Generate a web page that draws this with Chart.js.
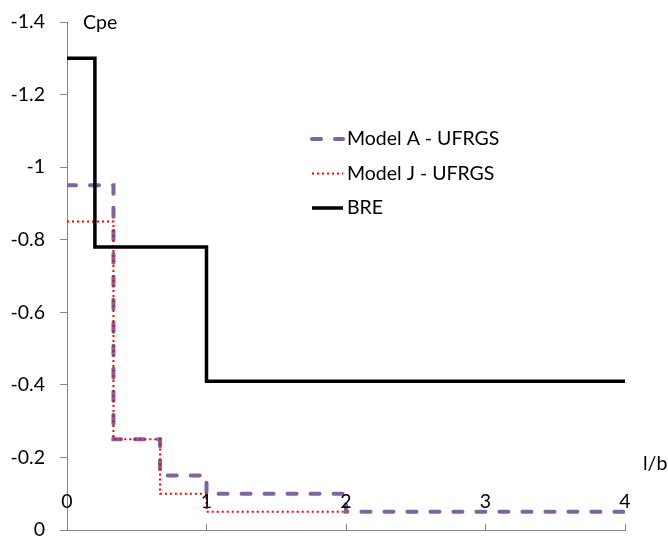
<!DOCTYPE html>
<html>
<head>
<meta charset="utf-8">
<script src="https://cdn.jsdelivr.net/npm/chart.js@4/dist/chart.umd.min.js"></script>
<style>
  html, body { margin: 0; padding: 0; background: #ffffff; }
  #wrap { width: 668px; height: 538px; }
</style>
</head>
<body>
<div id="wrap"><canvas id="c" width="668" height="538"></canvas></div>
<script>
// Step profiles of Cpe along l/b: band edges and the value held inside each band
const seriesNames = ['Model A - UFRGS', 'Model J - UFRGS', 'BRE'];
const edgesModelA = [0, 0.333, 0.667, 1, 2, 4];
const cpeModelA   = [-0.95, -0.25, -0.15, -0.10, -0.05];
const edgesModelJ = [0, 0.333, 0.667, 1, 2];
const cpeModelJ   = [-0.85, -0.25, -0.10, -0.05];
const edgesBRE    = [0, 0.2, 1, 4];
const cpeBRE      = [-1.3, -0.78, -0.41];

const xTickValues = [0, 1, 2, 3, 4];
const yTickValues = [-1.4, -1.2, -1, -0.8, -0.6, -0.4, -0.2, 0];

const FONT = 'Lato, "Open Sans", sans-serif';
const FONT_SIZE = 19.5;
const AXIS_GREY = '#868686';

// one point per band start plus the closing edge; drawn as a stepped line
function stepPoints(edges, values) {
  const pts = values.map((v, i) => ({ x: edges[i], y: v }));
  pts.push({ x: edges[edges.length - 1], y: values[values.length - 1] });
  return pts;
}

const extraText = {
  id: 'extraText',
  afterDraw(chart) {
    const ctx = chart.ctx;
    const xs = chart.scales.x;
    ctx.save();
    ctx.font = FONT_SIZE + 'px ' + FONT;
    ctx.fillStyle = '#000';
    ctx.textBaseline = 'middle';

    // l/b tick labels sit just above the horizontal axis, inside the plot
    ctx.textAlign = 'center';
    xs.ticks.forEach(t => {
      ctx.fillText(String(t.value), xs.getPixelForValue(t.value), 502);
    });

    // axis captions
    ctx.textAlign = 'left';
    ctx.fillText('Cpe', 83, 23);
    ctx.fillText('l/b', 643, 464);

    // legend
    chart.data.datasets.forEach((ds, i) => {
      const y = 139 + i * 34.5;
      ctx.save();
      ctx.strokeStyle = ds.borderColor;
      ctx.lineWidth = ds.borderWidth;
      ctx.lineCap = ds.borderCapStyle || 'butt';
      ctx.setLineDash(ds.borderDash || []);
      ctx.beginPath();
      ctx.moveTo(312, y);
      ctx.lineTo(343, y);
      ctx.stroke();
      ctx.restore();
      ctx.fillText(ds.label, 347, y);
    });
    ctx.restore();
  }
};

new Chart(document.getElementById('c'), {
  type: 'line',
  data: {
    datasets: [
      {
        label: seriesNames[0],
        data: stepPoints(edgesModelA, cpeModelA),
        borderColor: '#8064A2',
        borderWidth: 4,
        borderDash: [9, 14],
        borderCapStyle: 'round',
        stepped: true,
        pointRadius: 0,
        fill: false,
        order: 3
      },
      {
        label: seriesNames[1],
        data: stepPoints(edgesModelJ, cpeModelJ),
        borderColor: '#FF0000',
        borderWidth: 2,
        borderDash: [2, 3],
        stepped: true,
        pointRadius: 0,
        fill: false,
        order: 2
      },
      {
        label: seriesNames[2],
        data: stepPoints(edgesBRE, cpeBRE),
        borderColor: '#000000',
        borderWidth: 3.5,
        borderJoinStyle: 'miter',
        stepped: true,
        pointRadius: 0,
        fill: false,
        order: 1
      }
    ]
  },
  options: {
    responsive: false,
    animation: false,
    devicePixelRatio: 1,
    layout: { padding: { top: 22, left: 0, right: 43, bottom: 0 } },
    plugins: { legend: { display: false }, tooltip: { enabled: false } },
    scales: {
      x: {
        type: 'linear',
        min: 0,
        max: 4,
        afterBuildTicks(scale) { scale.ticks = xTickValues.map(v => ({ value: v })); },
        afterFit(scale) { scale.height = 8; scale.paddingLeft = 0; scale.paddingRight = 0; },
        ticks: { display: false },
        grid: {
          display: true,
          drawOnChartArea: false,
          drawTicks: true,
          tickLength: -6,
          color: AXIS_GREY
        },
        border: { display: true, color: AXIS_GREY, width: 1 }
      },
      y: {
        type: 'linear',
        min: -1.4,
        max: 0,
        reverse: true,
        afterBuildTicks(scale) { scale.ticks = yTickValues.map(v => ({ value: v })); },
        afterFit(scale) { scale.width = 67; scale.paddingTop = 0; scale.paddingBottom = 0; },
        ticks: {
          color: '#000',
          font: { family: FONT, size: FONT_SIZE },
          padding: 15,
          callback: v => String(Number(v.toFixed(1)))
        },
        grid: {
          display: true,
          drawOnChartArea: false,
          drawTicks: true,
          tickLength: 7,
          color: AXIS_GREY
        },
        border: { display: true, color: AXIS_GREY, width: 1 }
      }
    }
  },
  plugins: [extraText]
});
</script>
</body>
</html>
